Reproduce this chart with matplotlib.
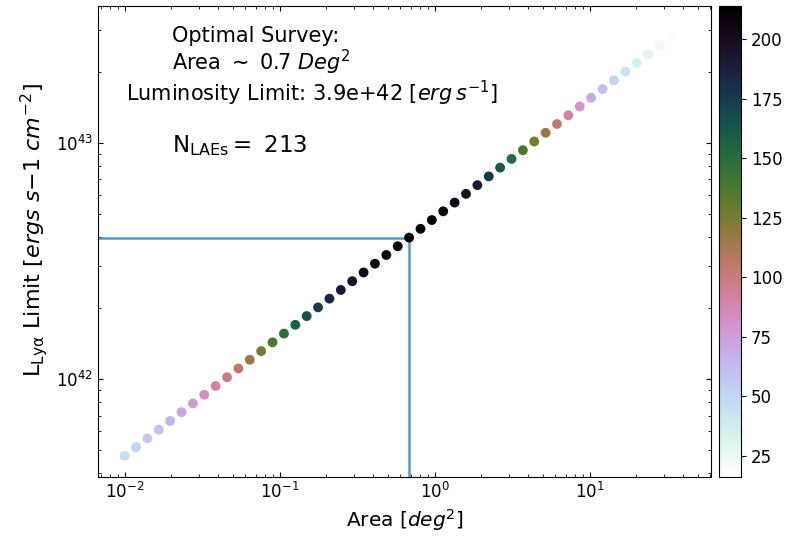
import matplotlib
matplotlib.use("Agg")
import matplotlib.pyplot as plt
from matplotlib.colors import Normalize

# survey area grid [deg^2]
area = [0.0100, 0.01184, 0.01402, 0.01661, 0.01966, 0.02328, 0.02757,
        0.03264, 0.03866, 0.04577, 0.05420, 0.06418, 0.07600, 0.0900,
        0.1066, 0.1262, 0.1494, 0.1769, 0.2095, 0.2481, 0.2938, 0.3479,
        0.4119, 0.4878, 0.5776, 0.6839, 0.8099, 0.9590, 1.1356, 1.3447,
        1.5922, 1.8854, 2.2326, 2.6437, 3.1305, 3.7068, 4.3893, 5.1975,
        6.1546, 7.2878, 8.6298, 10.219, 12.100, 14.328, 16.967, 20.091,
        23.790, 28.17, 33.36]

# luminosity limit for each area
lum_limit = [4.732e41, 5.152e41, 5.610e41, 6.108e41, 6.651e41, 7.242e41,
             7.886e41, 8.587e41, 9.350e41, 1.018e42, 1.109e42, 1.207e42,
             1.314e42, 1.431e42, 1.558e42, 1.697e42, 1.848e42, 2.012e42,
             2.191e42, 2.385e42, 2.597e42, 2.828e42, 3.080e42, 3.353e42,
             3.651e42, 3.972e42, 4.329e42, 4.714e42, 5.133e42, 5.589e42,
             6.085e42, 6.626e42, 7.215e42, 7.856e42, 8.554e42, 9.314e42,
             1.014e43, 1.104e43, 1.202e43, 1.309e43, 1.426e43, 1.552e43,
             1.690e43, 1.841e43, 2.004e43, 2.182e43, 2.376e43, 2.587e43,
             2.817e43]

# number of LAEs detected
n_laes = [46, 51, 56, 61, 66, 71, 77, 83, 90, 98, 105, 115, 125, 137, 148,
          157, 166, 176, 184, 191, 197, 202, 206, 209, 212, 213.6, 213, 211,
          208, 204, 198, 192, 176, 162, 150, 138, 127, 116, 104, 92, 80, 70,
          61, 52, 43, 35, 28, 23, 19]

best_area = 0.684
best_lum = 3.972e42

fig = plt.figure(figsize=(7.9, 5.38), dpi=100)
ax = fig.add_axes([0.124, 0.1134, 0.776, 0.8755])
cax = fig.add_axes([0.910, 0.1134, 0.028, 0.8755])

sc = ax.scatter(area, lum_limit, c=n_laes, cmap="cubehelix_r",
                norm=Normalize(16, 214), s=50, linewidths=0, zorder=3)
ax.set_xscale("log")
ax.set_yscale("log")
ax.set_xlim(6.73e-3, 60.6)
ax.set_ylim(3.85e41, 3.8e43)

ax.plot([6.73e-3, best_area], [best_lum, best_lum], color="C0", alpha=0.75,
        lw=1.8, zorder=2)
ax.plot([best_area, best_area], [3.85e41, best_lum], color="C0", alpha=0.75,
        lw=1.8, zorder=2)

ax.tick_params(which="both", direction="in", top=True, right=True,
               labelsize=12)
ax.set_xlabel(r"Area [$deg^2$]", fontsize=14.5)
ax.set_ylabel(r"L$_{\rm Ly\alpha}$ Limit [$ergs\ s{-1}\ cm^{-2}$]",
              fontsize=16)
ax.yaxis.label.set_y(0.525)

ax.text(0.121, 0.936, "Optimal Survey:", transform=ax.transAxes,
        fontsize=15, va="center")
ax.text(0.121, 0.881, r"Area $\sim$ 0.7 $Deg^2$", transform=ax.transAxes,
        fontsize=15, va="center")
ax.text(0.046, 0.815, r"Luminosity Limit: 3.9e+42 [$erg\,s^{-1}$]",
        transform=ax.transAxes, fontsize=15, va="center")
ax.text(0.121, 0.703, r"N$_{\rm LAEs} = $ 213", transform=ax.transAxes,
        fontsize=16.5, va="center")

cb = fig.colorbar(sc, cax=cax)
cb.ax.tick_params(labelsize=12)

fig.savefig("out.png", dpi=100)
